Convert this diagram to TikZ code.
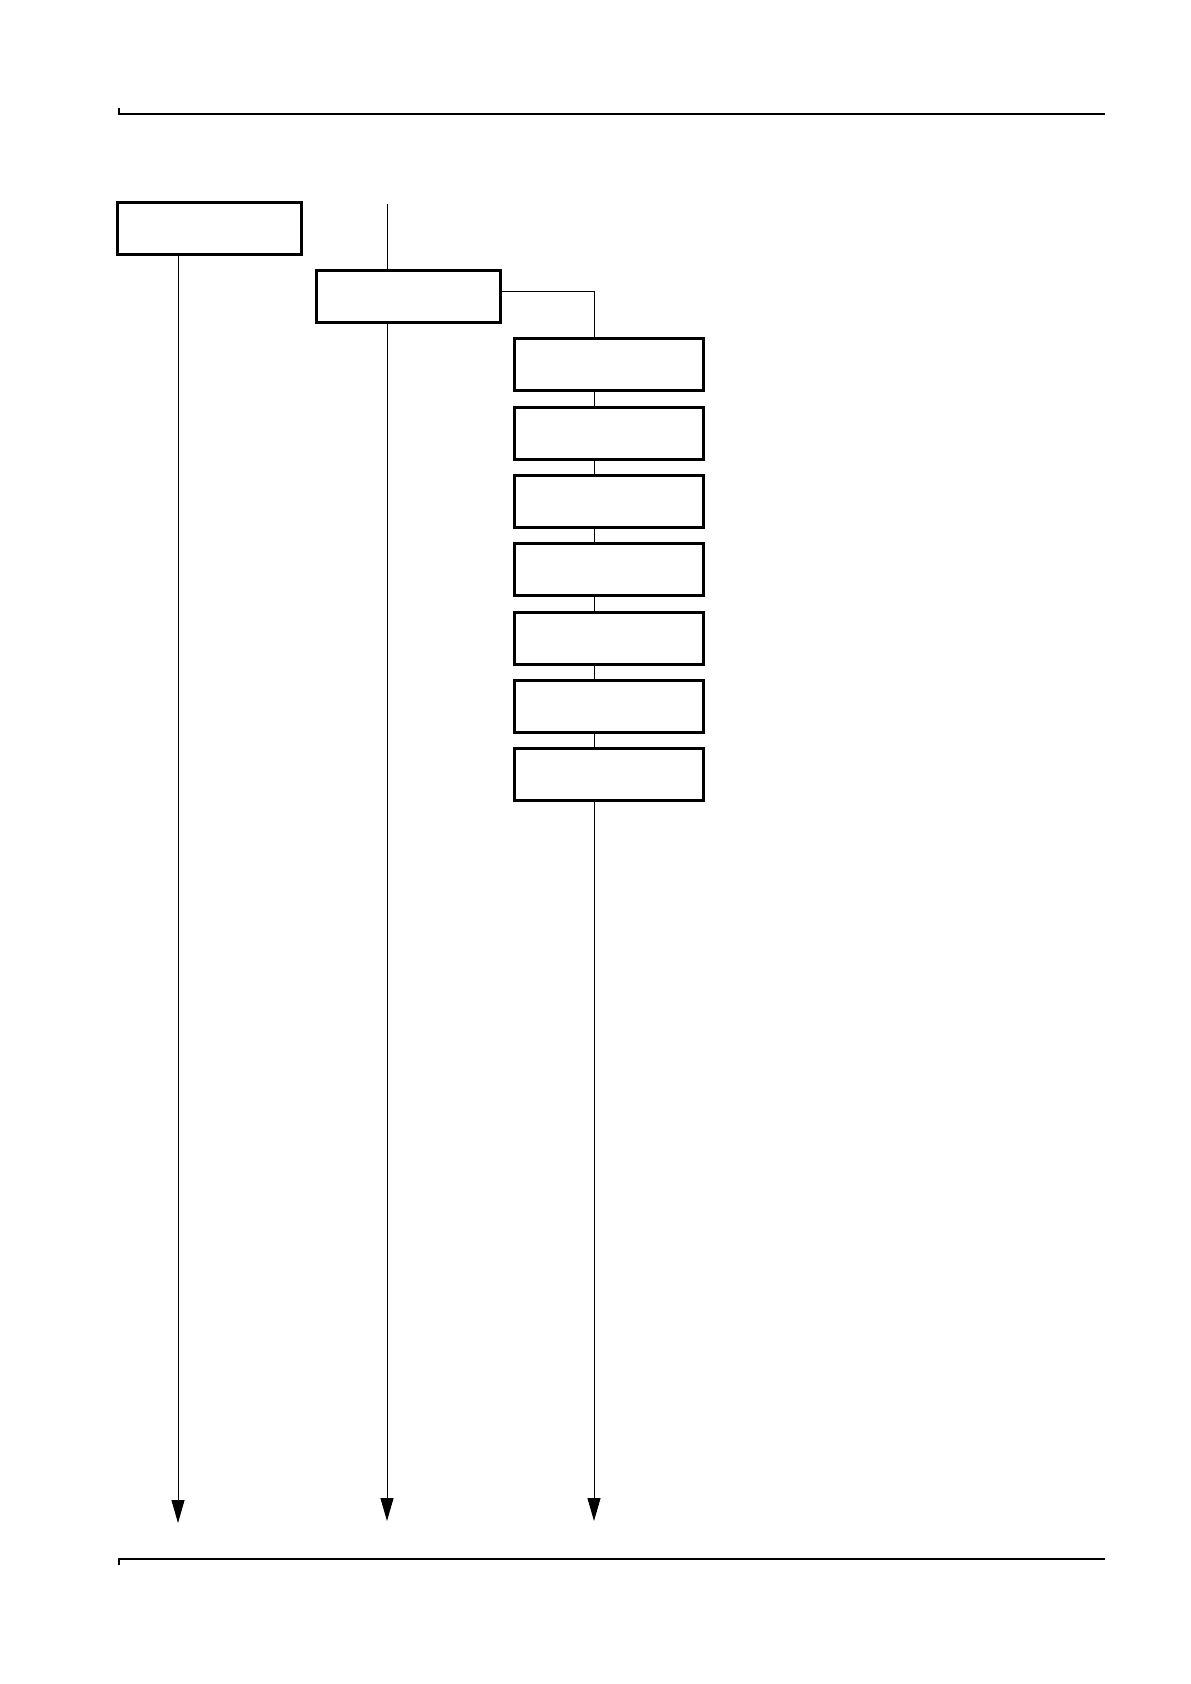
\documentclass[tikz,border=0pt]{standalone}
\usetikzlibrary{arrows.meta,positioning}

\begin{document}
\begin{tikzpicture}[x=0.5pt,y=-0.5pt,>={Triangle[length=11.5pt,width=6.5pt]},
    node distance=6.65pt,line width=0.5pt,
    step box/.style={rectangle,draw,line width=1.5pt,minimum width=91.75pt,minimum height=26pt,inner sep=0pt},
    sub box/.style={step box,minimum width=94.25pt}]
  \useasboundingbox (0,0) rectangle (1190,1684);

  % page rules
  \draw[line width=0.6pt] (119,108) -- (119,114) -- (1105,114);
  \draw[line width=0.6pt] (119,1565) -- (119,1559) -- (1105,1559);

  \node[step box]           (b1) at (209.5,229) {};
  \node[step box]           (b2) at (408.5,297) {};
  \node[sub box]            (s1) at (609,365) {};
  \node[sub box]            (s2) [below=of s1] {};
  \node[sub box]            (s3) [below=of s2] {};
  \node[sub box]            (s4) [below=of s3] {};
  \node[sub box]            (s5) [below=of s4] {};
  \node[sub box]            (s6) [below=of s5] {};
  \node[sub box]            (s7) [below=of s6] {};

  \coordinate (e1) at (178,1523);
  \coordinate (t2) at (387,204);
  \coordinate (e2) at (387,1521);
  \coordinate (e3) at (594,1521);

  \draw[->] (e1 |- b1.south) -- (e1);
  \draw (t2) -- (t2 |- b2.north);
  \draw[->] (t2 |- b2.south) -- (e2);
  \draw ([yshift=2.5pt]b2.east) -| (e3 |- s1.north);
  \foreach \i/\j in {1/2,2/3,3/4,4/5,5/6,6/7}
    \draw (e3 |- s\i.south) -- (e3 |- s\j.north);
  \draw[->] (e3 |- s7.south) -- (e3);
\end{tikzpicture}
\end{document}
